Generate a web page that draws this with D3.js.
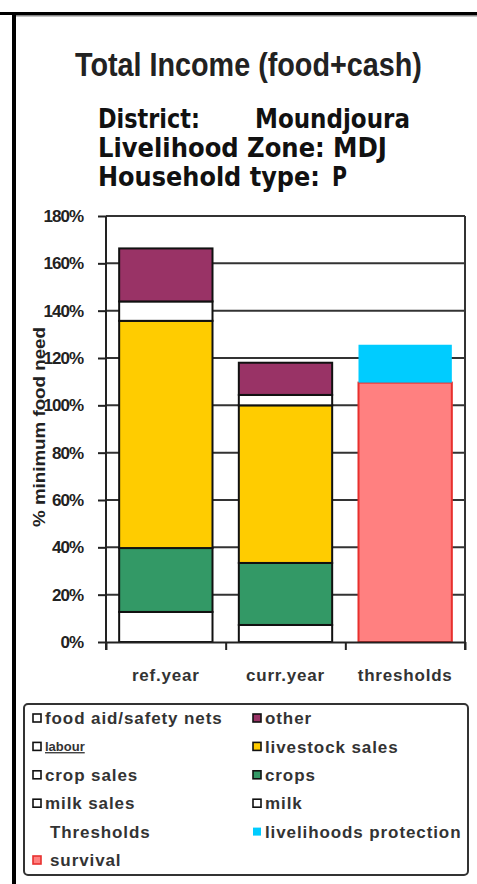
<!DOCTYPE html>
<html>
<head>
<meta charset="utf-8">
<script src="https://cdnjs.cloudflare.com/ajax/libs/d3/7.8.5/d3.min.js"></script>
<style>
  body { margin: 0; background: #fff; overflow: hidden; }
  svg { display: block; }
  text { font-family: "Liberation Sans", Arial, sans-serif; }
</style>
</head>
<body>
<div id="chart"></div>
<script>
// values (share of minimum food need)
var categories = ["ref.year", "curr.year", "thresholds"];
var milk = [0.127, 0.072, 0];
var milkSales = [0, 0, 0];
var crops = [0.270, 0.262, 0];
var cropSales = [0, 0, 0];
var livestockSales = [0.960, 0.666, 0];
var labour = [0.082, 0.044, 0];
var other = [0.224, 0.136, 0];
var foodAid = [0, 0, 0];
var survival = [0, 0, 1.096];
var livelihoodsProtection = [0, 0, 0.160];
var yTicks = [0, 0.2, 0.4, 0.6, 0.8, 1.0, 1.2, 1.4, 1.6, 1.8];

// stacking order, bottom to top
var seriesNames = ["milk", "milk sales", "crops", "crop sales", "livestock sales",
  "labour", "other", "food aid/safety nets", "survival", "livelihoods protection"];
var seriesValues = [milk, milkSales, crops, cropSales, livestockSales,
  labour, other, foodAid, survival, livelihoodsProtection];

var legendRows = [
  ["food aid/safety nets", "other"],
  ["labour", "livestock sales"],
  ["crop sales", "crops"],
  ["milk sales", "milk"],
  ["Thresholds", "livelihoods protection"],
  ["survival", null]
];

var fillColor = {
  "milk": "#fff", "milk sales": "#fff", "crops": "#339966", "crop sales": "#fff",
  "livestock sales": "#FFCC00", "labour": "#fff", "other": "#993366",
  "food aid/safety nets": "#fff", "survival": "#FF8080", "livelihoods protection": "#00CCFF"
};
var strokeColor = function(k) {
  if (k == "survival") return "#E8302E";
  if (k == "livelihoods protection") return "none";
  return "#111";
};

var svgWidth = 477, svgHeight = 884;
var plot = { left: 106, right: 465, top: 216, bottom: 642 };

var svg = d3.select("#chart").append("svg")
  .attr("width", svgWidth)
  .attr("height", svgHeight);

svg.append("rect").attr("width", svgWidth).attr("height", svgHeight).attr("fill", "#fff");

// outer frame (top and left edges of the pasted picture)
svg.append("rect").attr("x", 0).attr("y", 12).attr("width", svgWidth).attr("height", 3).attr("fill", "#000");
svg.append("rect").attr("x", 16).attr("y", 15).attr("width", svgWidth - 16).attr("height", 1.5).attr("fill", "#888");
svg.append("rect").attr("x", 12).attr("y", 12).attr("width", 4).attr("height", svgHeight - 12).attr("fill", "#000");

// squeeze a text horizontally so it spans w pixels (the original is stretched)
function squeeze(sel, x, y, w) {
  sel.each(function() {
    var len = this.getComputedTextLength();
    d3.select(this).attr("transform", `translate(${x},${y}) scale(${w / len},1)`);
  });
}

// titles
svg.append("text")
  .style("font-size", "33px").style("font-weight", "bold").attr("fill", "#222")
  .text("Total Income (food+cash)")
  .call(squeeze, 75, 76, 347);

var subParts = [
  ["District:", 98, 128, 102], ["Moundjoura", 255, 128, 155],
  ["Livelihood Zone:", 98, 157, 227], ["MDJ", 333, 157, 54],
  ["Household type:", 98, 186, 222], ["P", 332, 186, 15]
];
svg.selectAll(".sub").data(subParts).enter().append("text")
  .attr("class", "sub")
  .style("font-family", "'DejaVu Sans', Verdana, sans-serif")
  .style("font-size", "27px").style("font-weight", "bold").attr("fill", "#111")
  .text(d => d[0])
  .each(function(d) { d3.select(this).call(squeeze, d[1], d[2], d[3]); });

// scales
var x = d3.scaleBand().domain(categories)
  .range([plot.left, plot.right])
  .paddingInner(0.22).paddingOuter(0.11);
var xEdges = d3.scaleLinear().domain([0, categories.length]).range([plot.left, plot.right]);
var y = d3.scaleLinear().domain([0, 1.8]).range([plot.bottom, plot.top]);

// gridlines
svg.append("g").selectAll("line")
  .data(yTicks.filter(t => t > 0))
  .enter().append("line")
  .attr("x1", plot.left).attr("x2", plot.right)
  .attr("y1", d => y(d)).attr("y2", d => y(d))
  .attr("stroke", "#333").attr("stroke-width", 2);

// stacked bars
var table = categories.map(function(c, i) {
  var row = { cat: c };
  seriesNames.forEach(function(k, j) { row[k] = seriesValues[j][i]; });
  return row;
});
var stacked = d3.stack().keys(seriesNames)(table);

svg.append("g").selectAll("g")
  .data(stacked)
  .enter().append("g")
  .attr("fill", d => fillColor[d.key])
  .attr("stroke", d => strokeColor(d.key))
  .attr("stroke-width", 2)
  .selectAll("rect")
  .data(d => d.filter(s => s[1] - s[0] > 0))
  .enter().append("rect")
  .attr("x", d => x(d.data.cat))
  .attr("width", x.bandwidth())
  .attr("y", d => y(d[1]))
  .attr("height", d => y(d[0]) - y(d[1]));

// right border of plot area
svg.append("line")
  .attr("x1", plot.right).attr("x2", plot.right)
  .attr("y1", y(1.8)).attr("y2", plot.bottom + 8)
  .attr("stroke", "#333").attr("stroke-width", 2);

// y axis
var leftAxis = d3.axisLeft(y).tickValues(yTicks).tickSize(8).tickSizeOuter(0)
  .tickPadding(15).tickFormat(d3.format(".0%"));
var gy = svg.append("g").attr("transform", `translate(${plot.left},0)`).call(leftAxis);
gy.selectAll("path, line").attr("stroke", "#222").attr("stroke-width", 2);
gy.selectAll("text")
  .style("font-size", "17px").style("font-weight", "bold")
  .style("letter-spacing", "-1px").attr("fill", "#222");
gy.select(".domain").attr("d", `M0,${plot.top}V${plot.bottom + 8}`);

// x axis: boundary ticks and category labels
var edgeAxis = d3.axisBottom(xEdges).tickValues(d3.range(categories.length + 1))
  .tickSize(8).tickSizeOuter(0).tickFormat("");
var gx = svg.append("g").attr("transform", `translate(0,${plot.bottom})`).call(edgeAxis);
gx.selectAll("path, line").attr("stroke", "#222").attr("stroke-width", 2);

var gxl = svg.append("g").attr("transform", `translate(0,${plot.bottom})`)
  .call(d3.axisBottom(x).tickSize(0).tickPadding(27));
gxl.select(".domain").remove();
gxl.selectAll("text")
  .style("font-size", "17px").style("font-weight", "bold")
  .style("letter-spacing", "0.8px").attr("fill", "#333");

// y axis title
svg.append("text")
  .attr("transform", "translate(45,427) rotate(-90)")
  .attr("text-anchor", "middle")
  .attr("textLength", 200).attr("lengthAdjust", "spacingAndGlyphs")
  .style("font-size", "16px").style("font-weight", "bold").attr("fill", "#222")
  .text("% minimum food need");

// legend
var legend = svg.append("g");
legend.append("rect")
  .attr("x", 24).attr("y", 704).attr("width", 444).attr("height", 171).attr("rx", 4)
  .attr("fill", "#fff").attr("stroke", "#333").attr("stroke-width", 2);

var items = [];
legendRows.forEach(function(r, i) {
  r.forEach(function(name, j) { if (name) items.push({ name: name, row: i, col: j }); });
});
var colX = [33, 253];
var rowY = d3.scaleLinear().domain([0, 5]).range([718, 860]);

var li = legend.selectAll(".item").data(items).enter().append("g")
  .attr("class", "item")
  .attr("transform", d => `translate(${colX[d.col]},${rowY(d.row)})`);

li.filter(d => d.name != "Thresholds").append("rect")
  .attr("x", 0).attr("y", -4).attr("width", 8).attr("height", 8)
  .attr("fill", d => fillColor[d.name])
  .attr("stroke", d => strokeColor(d.name)).attr("stroke-width", 1.6);

li.append("text")
  .attr("x", d => d.name == "Thresholds" || d.name == "survival" ? 17 : 12)
  .attr("dy", "0.36em")
  .style("font-size", d => d.name == "labour" ? "13px" : "17px")
  .style("font-weight", "bold")
  .style("letter-spacing", d => d.name == "labour" ? "0px" : "0.9px")
  .style("text-decoration", d => d.name == "labour" ? "underline" : null)
  .attr("fill", "#333")
  .text(d => d.name);

// keep the top-right corner clean
svg.append("rect").attr("x", 466).attr("y", 17).attr("width", 11).attr("height", 198).attr("fill", "#fff");
</script>
</body>
</html>
